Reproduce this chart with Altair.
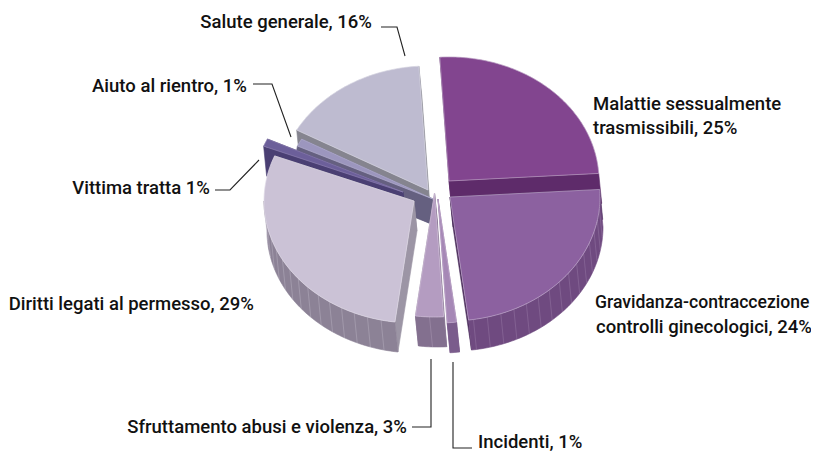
import math
import altair as alt
import pandas as pd

# ---- chart values
names = ["Malattie", "Gravidanza", "Incidenti", "Sfruttamento", "Diritti", "Vittima", "Aiuto", "Salute"]
shares = [25, 24, 1, 3, 29, 1, 1, 16]
first_angle = -3.5

# ---- pie look
apex_x = [449, 450, 438, 434.5, 414, 403, 433, 428]
apex_y = [181, 197, 199, 193, 201, 192, 199, 190]
radius_y = [124, 124, 124, 124, 122, 124, 124, 124]
top_colors = ["#82458F", "#8C61A0", "#A688B6", "#B49CC1", "#CBC2D6", "#6C5F9A", "#9C96BE", "#BEBBD0"]
wall_colors = ["#5E2B6A", "#6F4A80", "#7A5C8C", "#83708F", "#8C8296", "#4A3F73", "#656080", "#85848F"]
side_colors = ["#5E2B6A", "#4A2C5A", "#7A5C8C", "#83708F", "#9C95A5", "#4A3F73", "#656080", "#85848F"]
edge_colors = ["#B79BC0", "#BCA4C8", "#C4AED0", "#D0BFD8", "#E0DAE6", "#8C80B0", "#B4B0D0", "#D4D2E0"]
draw_order = [0, 7, 6, 5, 4, 3, 2, 1]
rx = 150
drop_x, drop_y = 3, 30
side_drop = {6: (-4, 24)}
hatch_step = 5.4

# ---- text
label_text = ["Malattie sessualmente", "trasmissibili, 25%", "Gravidanza-contraccezione", "controlli ginecologici, 24%",
              "Salute generale, 16%", "Aiuto al rientro, 1%", "Vittima tratta 1%", "Diritti legati al permesso, 29%",
              "Sfruttamento abusi e violenza, 3%", "Incidenti, 1%"]
label_x = [593, 593, 595, 596, 372, 247, 210, 254, 407, 478]
label_y = [104, 128, 303, 327, 22, 86, 188, 304, 427, 442]
label_size = [18.5, 18.5, 17.6, 18.5, 18.5, 18.5, 18.5, 18.5, 18.5, 18.5]
label_align = ["left", "left", "left", "left", "right", "right", "right", "right", "right", "left"]
leaders = [
    [(381, 27), (397, 27), (405, 56)],
    [(253, 84), (272, 84), (291, 137)],
    [(215, 190), (230, 190), (259, 160)],
    [(412, 427), (431, 427), (431, 359)],
    [(453, 362), (453, 448), (472, 448)],
]

X = alt.Scale(domain=[8, 811], range=[0, 803], nice=False, zero=False)
Y = alt.Scale(domain=[452, 8], range=[444, 0], nice=False, zero=False)


def pt(i, t, dx=0, dy=0):
    r = math.radians(t)
    return apex_x[i] + rx * math.sin(r) + dx, apex_y[i] - radius_y[i] * math.cos(r) + dy


def arc(i, a, b, dx=0, dy=0):
    n = max(2, int(abs(b - a)) + 2)
    return [pt(i, a + (b - a) * k / (n - 1), dx, dy) for k in range(n)]


def poly(points, fill, stroke=None, width=0.6):
    pts = list(points) + [points[0]]
    df = pd.DataFrame({"x": [p[0] for p in pts], "y": [p[1] for p in pts], "o": range(len(pts))})
    return alt.Chart(df).mark_line(fill=fill, stroke=stroke or fill, strokeWidth=width, interpolate="linear").encode(
        x=alt.X("x:Q", scale=X, axis=None),
        y=alt.Y("y:Q", scale=Y, axis=None),
        order="o:Q",
    )


starts, acc = [], first_angle
for s in shares:
    starts.append(acc)
    acc += s * 3.6

layers = []
for i in draw_order:
    a, b = starts[i], starts[i] + shares[i] * 3.6
    sx, sy = side_drop.get(i, (drop_x, drop_y))
    ap = (apex_x[i], apex_y[i])
    ap2 = (apex_x[i] + sx, apex_y[i] + sy)
    for t in (a, b):
        layers.append(poly([ap, pt(i, t), pt(i, t, sx, sy), ap2], side_colors[i]))
    lo, hi = max(a, 90), min(b, 270)
    if lo < hi:
        layers.append(poly(arc(i, lo, hi) + arc(i, hi, lo, drop_x, drop_y), wall_colors[i]))
        t = lo + hatch_step
        rows = []
        g = 0
        while t < hi - 1:
            p, q = pt(i, t), pt(i, t, drop_x, drop_y)
            rows += [{"x": p[0], "y": p[1], "g": g}, {"x": q[0], "y": q[1], "g": g}]
            g += 1
            t += hatch_step
        if rows:
            layers.append(alt.Chart(pd.DataFrame(rows)).mark_line(stroke=edge_colors[i], strokeWidth=0.5, opacity=0.5).encode(
                x=alt.X("x:Q", scale=X, axis=None), y=alt.Y("y:Q", scale=Y, axis=None), detail="g:N"))
    layers.append(poly([ap] + arc(i, a, b), top_colors[i], edge_colors[i], 0.7))

rows = []
for g, line in enumerate(leaders):
    for o, (x, y) in enumerate(line):
        rows.append({"x": x, "y": y, "g": g, "o": o})
layers.append(alt.Chart(pd.DataFrame(rows)).mark_line(stroke="#222222", strokeWidth=1.1).encode(
    x=alt.X("x:Q", scale=X, axis=None), y=alt.Y("y:Q", scale=Y, axis=None), detail="g:N", order="o:Q"))

for align in ("left", "right"):
    df = pd.DataFrame({"x": label_x, "y": label_y, "t": label_text, "a": label_align, "s": label_size})
    df = df[df.a == align]
    layers.append(alt.Chart(df).mark_text(align=align, baseline="middle", font="Roboto",
                                          fontWeight=500, color="#111111").encode(
        x=alt.X("x:Q", scale=X, axis=None), y=alt.Y("y:Q", scale=Y, axis=None), text="t:N",
        size=alt.Size("s:Q", scale=None, legend=None)))

chart = alt.layer(*layers).properties(width=803, height=444, padding=0, autosize=alt.AutoSizeParams(type="none"),
                                      background="white").configure_view(stroke=None)
chart.save("out.html", embed_options={"renderer": "svg", "actions": False})
